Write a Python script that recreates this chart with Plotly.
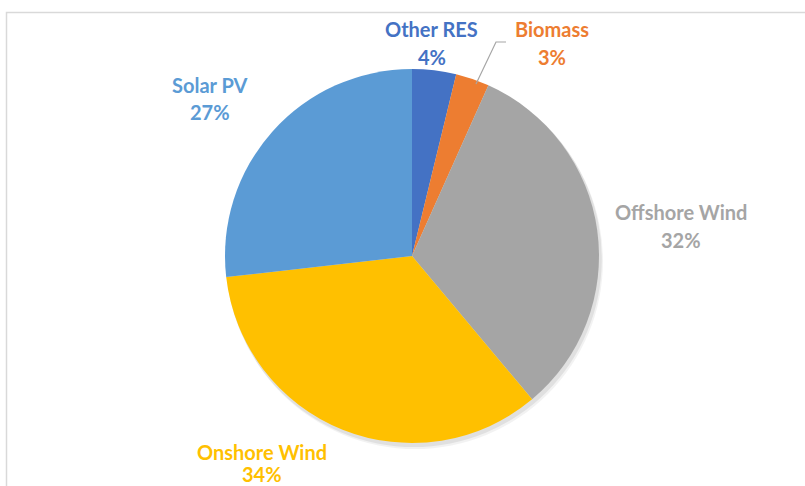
import plotly.graph_objects as go

# ---- data ----
categories = ["Other RES", "Biomass", "Offshore Wind", "Onshore Wind", "Solar PV"]
shares = [3.8, 2.9, 32.2, 34.3, 26.8]
pct_labels = ["4%", "3%", "32%", "34%", "27%"]

# ---- style ----
colors = ["#4472C4", "#ED7D31", "#A5A5A5", "#FFC000", "#5B9BD5"]
W, H = 805, 486
cx, cy, r = 412, 256, 187
# label centres (pixels): x, name line y, percent line y
label_pos = [(432, 29, 57), (552, 29, 57), (681, 212, 240), (262, 452, 474), (210, 85, 112)]
FONT = "Lato"
FSIZE = 20

def px(x):
    return x / W

def py(y):
    return 1 - y / H

fig = go.Figure()

# soft drop shadow behind the pie
for off, alpha in [(5, 0.05), (3, 0.07)]:
    fig.add_trace(go.Pie(
        values=[1], labels=["shadow"], marker=dict(colors=[f"rgba(0,0,0,{alpha})"], line=dict(width=0)),
        textinfo="none", hoverinfo="skip", showlegend=False, sort=False,
        domain=dict(x=[px(cx - r - 1 + off * 0.6), px(cx + r + 1 + off * 0.6)],
                    y=[py(cy + r + 1 + off), py(cy - r - 1 + off)]),
    ))

fig.add_trace(go.Pie(
    labels=categories, values=shares, sort=False, direction="clockwise", rotation=0,
    marker=dict(colors=colors, line=dict(width=0)),
    textinfo="none", showlegend=False,
    domain=dict(x=[px(cx - r), px(cx + r)], y=[py(cy + r), py(cy - r)]),
))

annotations = []
for name, pct, col, (lx, ly1, ly2) in zip(categories, pct_labels, colors, label_pos):
    for txt, yy in [(name, ly1), (pct, ly2)]:
        annotations.append(dict(
            x=px(lx), y=py(yy), xref="paper", yref="paper", text=f"<b>{txt}</b>",
            showarrow=False, xanchor="center", yanchor="middle",
            font=dict(family=FONT, size=FSIZE, color=col),
        ))

shapes = [
    # chart frame
    dict(type="rect", xref="paper", yref="paper", x0=px(6.5), x1=px(830), y0=py(520), y1=py(12.5),
         line=dict(color="#D9D9D9", width=1.5), layer="below"),
    # biomass leader line
    dict(type="path", xref="paper", yref="paper",
         path=f"M {px(476)} {py(84)} L {px(496)} {py(42)} L {px(506)} {py(42)}",
         line=dict(color="#A6A6A6", width=1.2)),
]

fig.update_layout(
    width=W, height=H, margin=dict(l=0, r=0, t=0, b=0),
    paper_bgcolor="white", plot_bgcolor="white",
    annotations=annotations, shapes=shapes, showlegend=False,
)

fig.write_html("out.html", config={"displayModeBar": False},
               post_script="document.body.style.margin='0px';document.body.style.overflow='hidden';")
